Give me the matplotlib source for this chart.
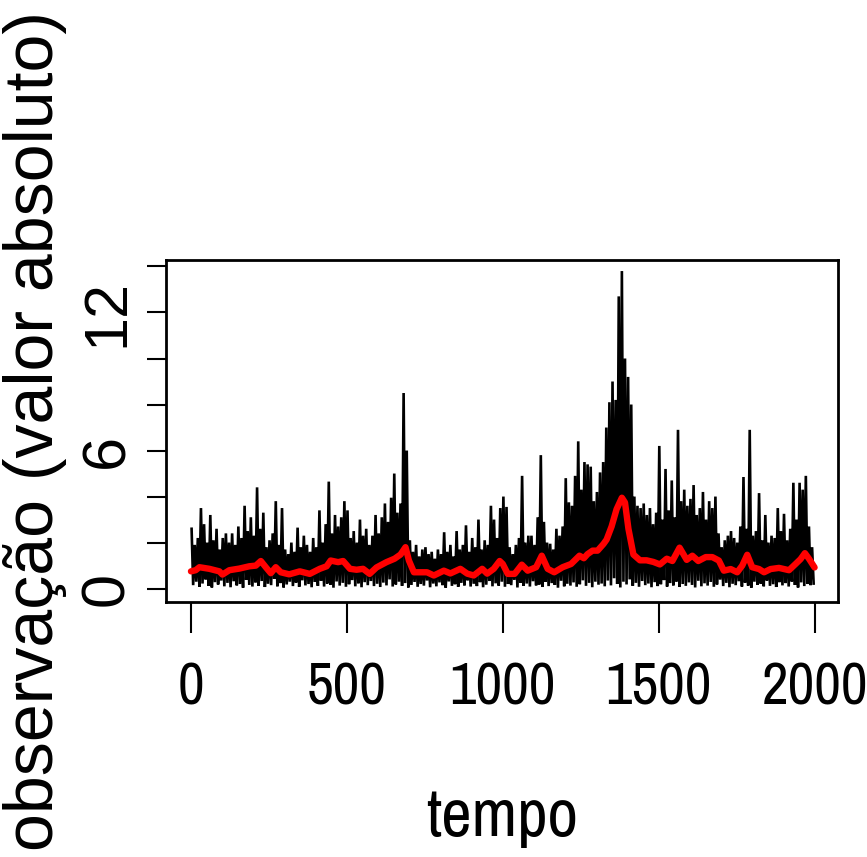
import matplotlib
matplotlib.use("Agg")
import matplotlib.pyplot as plt
from matplotlib import font_manager

# peak of |obs| in each block of 10 time steps
PEAKS = [
    2.6, 1.9, 2.2, 3.5, 2.8, 2.0, 3.2, 2.1, 2.6, 1.7,
    2.2, 2.4, 2.0, 2.4, 1.9, 2.7, 2.2, 3.6, 2.5, 3.1,
    2.3, 4.4, 2.6, 3.3, 1.8, 2.1, 2.4, 3.8, 1.9, 3.5,
    1.7, 1.5, 2.0, 1.6, 2.65, 1.8, 2.3, 1.9, 1.6, 2.2,
    1.8, 3.4, 2.0, 2.8, 4.65, 2.4, 3.2, 2.7, 3.1, 3.8,
    3.4, 2.2, 2.5, 2.0, 3.0, 2.3, 2.6, 1.9, 2.3, 3.2,
    2.4, 3.1, 3.7, 2.9, 3.95, 5.0, 3.3, 3.7, 8.5, 6.0,
    2.1, 1.6, 1.9, 1.4, 1.7, 1.8, 1.5, 1.6, 1.3, 1.7,
    1.5, 2.45, 1.6, 1.9, 1.4, 2.5, 1.7, 1.9, 2.75, 1.6,
    2.2, 1.8, 3.0, 1.7, 2.1, 1.9, 3.6, 3.0, 2.2, 3.5,
    4.0, 3.55, 1.8, 1.5, 1.9, 2.2, 4.9, 2.0, 2.3, 2.3,
    1.9, 3.1, 5.8, 2.9, 2.0, 1.95, 1.7, 2.6, 2.3, 2.7,
    4.8, 3.75, 3.6, 4.9, 6.4, 4.3, 5.5, 5.4, 5.3, 3.8,
    4.2, 5.05, 5.5, 7.0, 8.1, 9.0, 8.2, 12.7, 13.8, 10.0,
    9.2, 8.0, 4.0, 3.6, 3.5, 3.7, 3.2, 3.5, 2.8, 3.3,
    6.2, 3.0, 5.2, 3.4, 4.7, 3.1, 6.9, 3.8, 4.3, 3.6,
    3.9, 4.5, 3.2, 3.5, 4.2, 3.0, 3.8, 3.5, 4.0, 2.4,
    1.8, 2.1, 2.3, 2.5, 2.2, 2.0, 2.7, 4.85, 2.6, 6.9,
    2.3, 2.5, 4.15, 2.1, 3.2, 2.0, 2.3, 2.2, 3.5, 2.5,
    3.25, 2.1, 2.6, 4.6, 3.0, 4.6, 4.3, 4.9, 2.7, 1.8,
]
# low point of each block
TROUGHS = [
    0.15, 0.30, 0.08, 0.22, 0.40, 0.12, 0.05, 0.28, 0.18, 0.35,
    0.10, 0.25, 0.06, 0.32, 0.14, 0.20, 0.04, 0.38, 0.16, 0.09,
    0.27, 0.12, 0.33, 0.07, 0.21, 0.15, 0.42, 0.10, 0.24, 0.05,
    0.18, 0.30, 0.11, 0.26, 0.08, 0.36, 0.14, 0.20, 0.06, 0.29,
    0.12, 0.34, 0.09, 0.22, 0.17, 0.04, 0.31, 0.13, 0.25, 0.08,
    0.19, 0.37, 0.10, 0.23, 0.06, 0.28, 0.15, 0.33, 0.11, 0.21,
    0.07, 0.26, 0.14, 0.40, 0.09, 0.18, 0.30, 0.12, 0.24, 0.05,
    0.16, 0.29, 0.08, 0.20, 0.13, 0.35, 0.06, 0.22, 0.10, 0.27,
    0.15, 0.04, 0.31, 0.12, 0.19, 0.08, 0.25, 0.14, 0.36, 0.09,
    0.21, 0.11, 0.28, 0.06, 0.17, 0.33, 0.10, 0.23, 0.13, 0.30,
    0.08, 0.20, 0.15, 0.38, 0.05, 0.26, 0.12, 0.22, 0.09, 0.32,
    0.14, 0.18, 0.07, 0.29, 0.11, 0.24, 0.16, 0.04, 0.34, 0.10,
    0.21, 0.13, 0.27, 0.08, 0.19, 0.36, 0.12, 0.25, 0.06, 0.30,
    0.17, 0.22, 0.10, 0.35, 0.14, 0.45, 0.20, 0.05, 0.30, 0.18,
    0.40, 0.12, 0.25, 0.08, 0.33, 0.15, 0.22, 0.06, 0.28, 0.11,
    0.19, 0.37, 0.09, 0.24, 0.14, 0.31, 0.07, 0.20, 0.12, 0.27,
    0.16, 0.05, 0.34, 0.10, 0.23, 0.13, 0.29, 0.08, 0.18, 0.39,
    0.11, 0.25, 0.06, 0.21, 0.15, 0.32, 0.09, 0.26, 0.13, 0.04,
    0.30, 0.17, 0.22, 0.10, 0.35, 0.12, 0.19, 0.07, 0.28, 0.14,
    0.24, 0.09, 0.31, 0.16, 0.05, 0.27, 0.11, 0.20, 0.15, 0.22,
]
# smoothed volatility (red)
RED_T = [0, 15, 27, 59, 91, 101, 123, 155, 187, 208, 224, 240, 256, 272, 288,
         315, 349, 381, 413, 435, 448, 472, 488, 510, 531, 552, 573, 595, 627,
         653, 672, 688, 699, 715, 736, 757, 779, 811, 832, 864, 886, 907, 934,
         950, 971, 990, 1000, 1016, 1038, 1061, 1080, 1107, 1125, 1144, 1165,
         1192, 1219, 1246, 1260, 1272, 1288, 1304, 1323, 1333, 1349, 1365,
         1382, 1392, 1403, 1419, 1440, 1461, 1483, 1504, 1526, 1544, 1567,
         1590, 1608, 1627, 1651, 1672, 1693, 1709, 1731, 1752, 1768, 1784,
         1800, 1822, 1838, 1859, 1886, 1918, 1939, 1955, 1969, 1982, 2000]
RED_V = [0.75, 0.8, 0.93, 0.86, 0.75, 0.61, 0.8, 0.87, 0.97, 1.0, 1.2, 0.93,
         0.67, 0.93, 0.71, 0.62, 0.75, 0.64, 0.86, 0.97, 1.22, 1.15, 1.2, 0.86,
         0.82, 0.86, 0.64, 0.92, 1.15, 1.3, 1.48, 1.8, 1.22, 0.71, 0.71, 0.71,
         0.57, 0.78, 0.66, 0.86, 0.65, 0.57, 0.86, 0.65, 0.86, 1.2, 1.07, 0.64,
         0.64, 1.04, 0.78, 0.93, 1.43, 0.86, 0.71, 0.93, 1.07, 1.43, 1.32, 1.5,
         1.65, 1.65, 1.94, 2.13, 2.7, 3.45, 3.95, 3.74, 2.6, 1.48, 1.23, 1.23,
         1.16, 1.05, 1.3, 1.2, 1.78, 1.25, 1.43, 1.2, 1.37, 1.37, 1.22, 0.78,
         0.85, 0.71, 1.0, 1.47, 0.93, 0.85, 0.71, 0.85, 0.9, 0.8, 1.07, 1.28,
         1.54, 1.3, 0.92]

XTICKS = [0, 500, 1000, 1500, 2000]
YTICKS = [0, 2, 4, 6, 8, 10, 12, 14]
YTICKLABELS = ["0", "", "", "6", "", "", "12", ""]

names = {f.name for f in font_manager.fontManager.ttflist}
narrow = [n for n in sorted(names) if "Narrow" in n or "Condensed" in n]
NARROW = narrow[0] if narrow else None
plt.rcParams["font.family"] = "Liberation Sans"

t, v = [], []
for i, (p, q) in enumerate(zip(PEAKS, TROUGHS)):
    t += [10 * i + 2, 10 * i + 7]
    v += [p, q]

fig = plt.figure(figsize=(8.67, 8.57), dpi=100)
ax = fig.add_axes([0.1915, 0.2976, 0.775, 0.399])

ax.plot(t, v, color="black", lw=1.9, solid_joinstyle="miter")
ax.plot(RED_T, RED_V, color="#ff0000", lw=4.6, solid_capstyle="round")

ax.set_xlim(-80, 2075)
ax.set_ylim(-0.58, 14.28)
for s in ax.spines.values():
    s.set_linewidth(2)

ax.set_xticks(XTICKS)
if NARROW:
    ax.set_xticklabels([str(x) for x in XTICKS], fontfamily=NARROW, fontsize=42)
else:
    ax.set_xticklabels([str(x) for x in XTICKS], fontsize=32)
ax.tick_params(axis="x", length=22, width=1.5, pad=21)

ax.set_yticks(YTICKS)
ax.set_yticklabels(YTICKLABELS, rotation=90, va="center", fontsize=44)
ax.tick_params(axis="y", length=13.7, width=1.5, pad=8)

fig.text(0.5795, 1 - 836 / 857, "tempo", ha="center", va="baseline",
         fontfamily=NARROW or "Liberation Sans", fontsize=48 if NARROW else 42)
fig.text(0.040, 0.497, "observação (valor absoluto)", rotation=90,
         ha="center", va="center", fontsize=49)

fig.savefig("out.png", dpi=100, facecolor="white")
